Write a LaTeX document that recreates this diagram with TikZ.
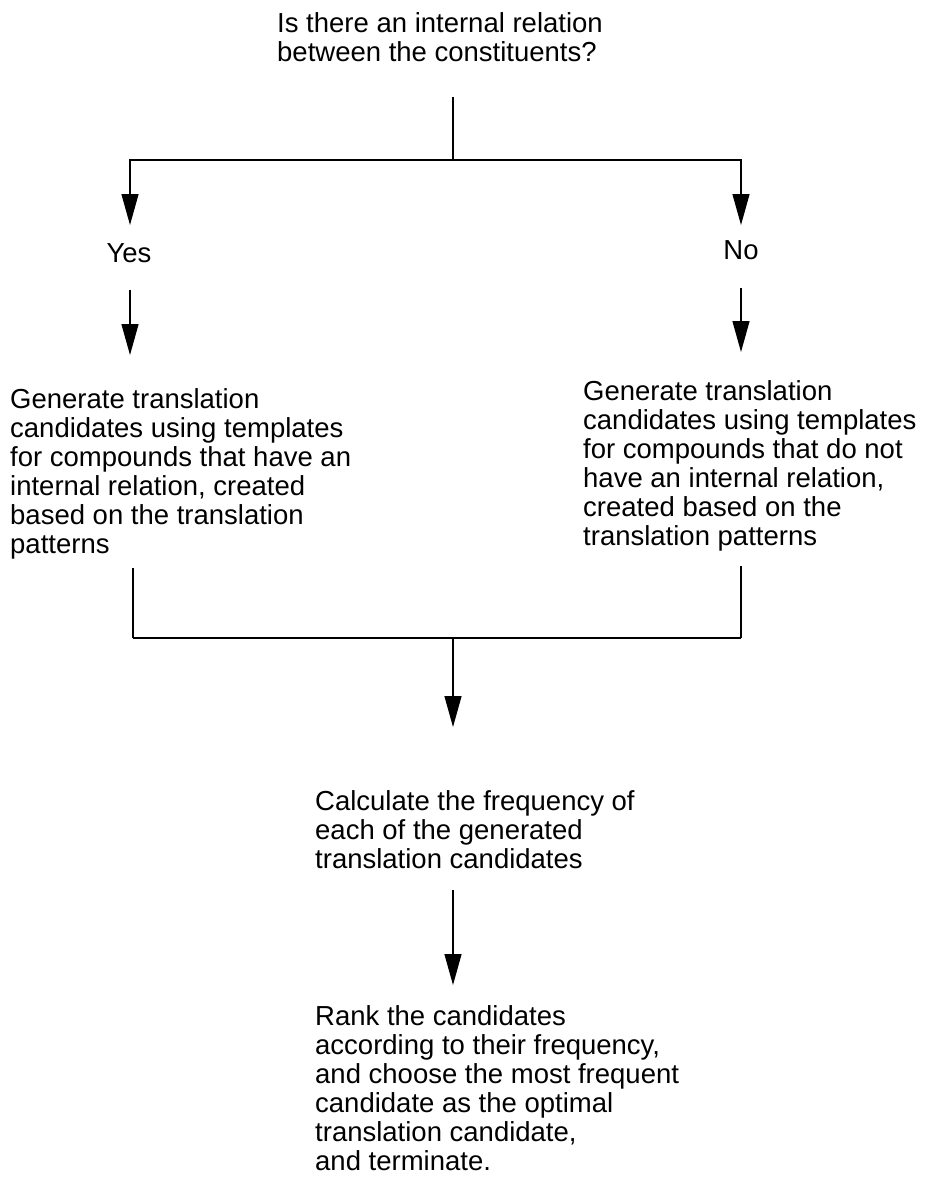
\documentclass[tikz,border=0pt]{standalone}
\usepackage{fontspec}
\setmainfont{Liberation Sans}
\usetikzlibrary{arrows.meta}
\begin{document}
\begin{tikzpicture}[x=1pt,y=1pt,
  txt/.style={inner sep=0pt, align=left, font=\fontsize{27.5}{29}\selectfont},
  line/.style={line width=1.3pt},
  arr/.style={line width=1.3pt, -{Triangle[length=31pt,width=17pt]}}]
\useasboundingbox (0,0) rectangle (927,-1180);

% question and the two answers
\node[txt, anchor=north west] (q) at (277,-12.5)
  {Is there an internal relation\\between the constituents?};
\node[txt] (yes) at (129,-253) {Yes};
\node[txt] (no) at (741,-250) {No};

% the two generation steps
\node[txt, anchor=north west] (genyes) at (10,-388.5)
  {Generate translation\\candidates using templates\\for compounds that have an\\internal relation, created\\based on the translation\\patterns};
\node[txt, anchor=north west] (genno) at (583,-380.5)
  {Generate translation\\candidates using templates\\for compounds that do not\\have an internal relation,\\created based on the\\translation patterns};

% frequency and ranking
\node[txt, anchor=north west] (calc) at (315,-790.5)
  {Calculate the frequency of\\each of the generated\\translation candidates};
\node[txt, anchor=north west] (rank) at (315,-1005.5)
  {Rank the candidates\\according to their frequency,\\and choose the most frequent\\candidate as the optimal\\translation candidate,\\and terminate.};

% connector end points
\coordinate (qfoot) at (453,-97);
\coordinate (split) at (453,-160);
\coordinate (yestip) at (130,-225);
\coordinate (notip) at (741,-225);
\coordinate (yesfoot) at (130,-290);
\coordinate (yestip2) at (130,-355);
\coordinate (nofoot) at (741,-288);
\coordinate (notip2) at (741,-352);
\coordinate (genyesfoot) at (133,-568);
\coordinate (gennofoot) at (741,-566);
\coordinate (join) at (453,-638);
\coordinate (calctip) at (453,-727);
\coordinate (calcfoot) at (453,-890);
\coordinate (ranktip) at (453,-985);

% connectors
\draw[line] (qfoot) -- (split);
\draw[arr] (split) -| (yestip);
\draw[arr] (split) -| (notip);
\draw[arr] (yesfoot) -- (yestip2);
\draw[arr] (nofoot) -- (notip2);
\draw[line] (genyesfoot) -- (genyesfoot |- join);
\draw[line] (gennofoot) -- (gennofoot |- join);
\draw[line width=2pt] (genyesfoot |- join) -- (gennofoot |- join);
\draw[arr] (join) -- (calctip);
\draw[arr] (calcfoot) -- (ranktip);
\end{tikzpicture}
\end{document}
